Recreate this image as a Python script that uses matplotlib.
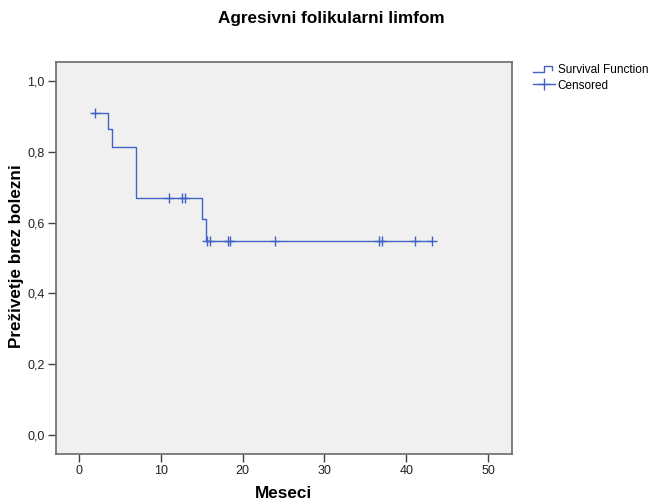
import matplotlib
matplotlib.use('Agg')
import matplotlib.pyplot as plt
from matplotlib.lines import Line2D
from matplotlib.legend_handler import HandlerBase

plt.rcParams['font.family'] = ['Liberation Sans', 'DejaVu Sans']

# Podatki (odčitani s slike)
cas_dogodkov = [1.6, 3.5, 4.0, 7.0, 15.0, 15.5, 43.1]
prezivetje = [0.909, 0.864, 0.814, 0.670, 0.610, 0.549, 0.549]
cas_cenzur = [2.0, 11.0, 12.6, 13.0, 15.6, 16.0, 18.2, 18.5, 24.0, 36.7, 37.0, 41.1, 43.1]
prez_cenzur = [0.909, 0.670, 0.670, 0.670, 0.549, 0.549, 0.549, 0.549, 0.549,
               0.549, 0.549, 0.549, 0.549]
x_ticks = [0, 10, 20, 30, 40, 50]
y_ticks = [0.0, 0.2, 0.4, 0.6, 0.8, 1.0]

barva = '#4363c4'


class StepHandler(HandlerBase):
    # ikona stopnice za legendo
    def create_artists(self, legend, orig_handle, xdescent, ydescent,
                       width, height, fontsize, trans):
        x0 = -xdescent
        ylo, yhi = -ydescent + height * 0.1, -ydescent + height * 0.9
        xm1 = x0 + width * 0.5
        xm2 = x0 + width * 0.85
        ln = Line2D([x0, xm1, xm1, xm2, xm2], [ylo, ylo, yhi, yhi, ylo + height * 0.3],
                    color=barva, lw=1.0, transform=trans)
        return [ln]


fig = plt.figure(figsize=(6.53, 5.04), dpi=100)
ax = fig.add_axes([0.0858, 0.0992, 0.698, 0.778])
ax.set_facecolor('#f0f0f0')

ax.step(cas_dogodkov, prezivetje, where='post', color=barva, lw=1.0)
ax.plot(cas_cenzur, prez_cenzur, linestyle='none', marker='+', markersize=7,
        markeredgewidth=1.0, color=barva)

ax.set_xlim(-2.8, 52.9)
ax.set_ylim(-0.054, 1.054)
ax.set_xticks(x_ticks)
ax.set_yticks(y_ticks)
ax.set_yticklabels([f'{v:.1f}'.replace('.', ',') for v in y_ticks])
ax.tick_params(axis='both', labelsize=9, color='#404040', length=6,
               width=1.0, labelcolor='#222222', direction='out', pad=2)

for s in ax.spines.values():
    s.set_color('#6a6a6a')
    s.set_linewidth(1.2)

fig.text(284 / 653, 1 - 494 / 504, 'Meseci', fontsize=12.3, fontweight='bold',
         ha='center', va='center')
fig.text(17 / 653, 1 - 256 / 504, 'Preživetje brez bolezni', fontsize=12.3,
         fontweight='bold', ha='center', va='center', rotation=90)
fig.text(331 / 653, 1 - 19 / 504, 'Agresivni folikularni limfom', fontsize=12.3,
         fontweight='bold', ha='center', va='center')

h_surv = Line2D([], [], color=barva)
h_cens = Line2D([], [], color=barva, marker='+', markersize=8, lw=1.0)
fig.legend([h_surv, h_cens], ['Survival Function', 'Censored'],
           handler_map={h_surv: StepHandler()},
           loc='upper left', bbox_to_anchor=(533 / 653, 1 - 64 / 504), frameon=False,
           fontsize=8.5, handlelength=1.9, handletextpad=0.2, labelspacing=0.3,
           borderpad=0.0, borderaxespad=0.0)

fig.savefig('out.png', dpi=100, facecolor='white')
